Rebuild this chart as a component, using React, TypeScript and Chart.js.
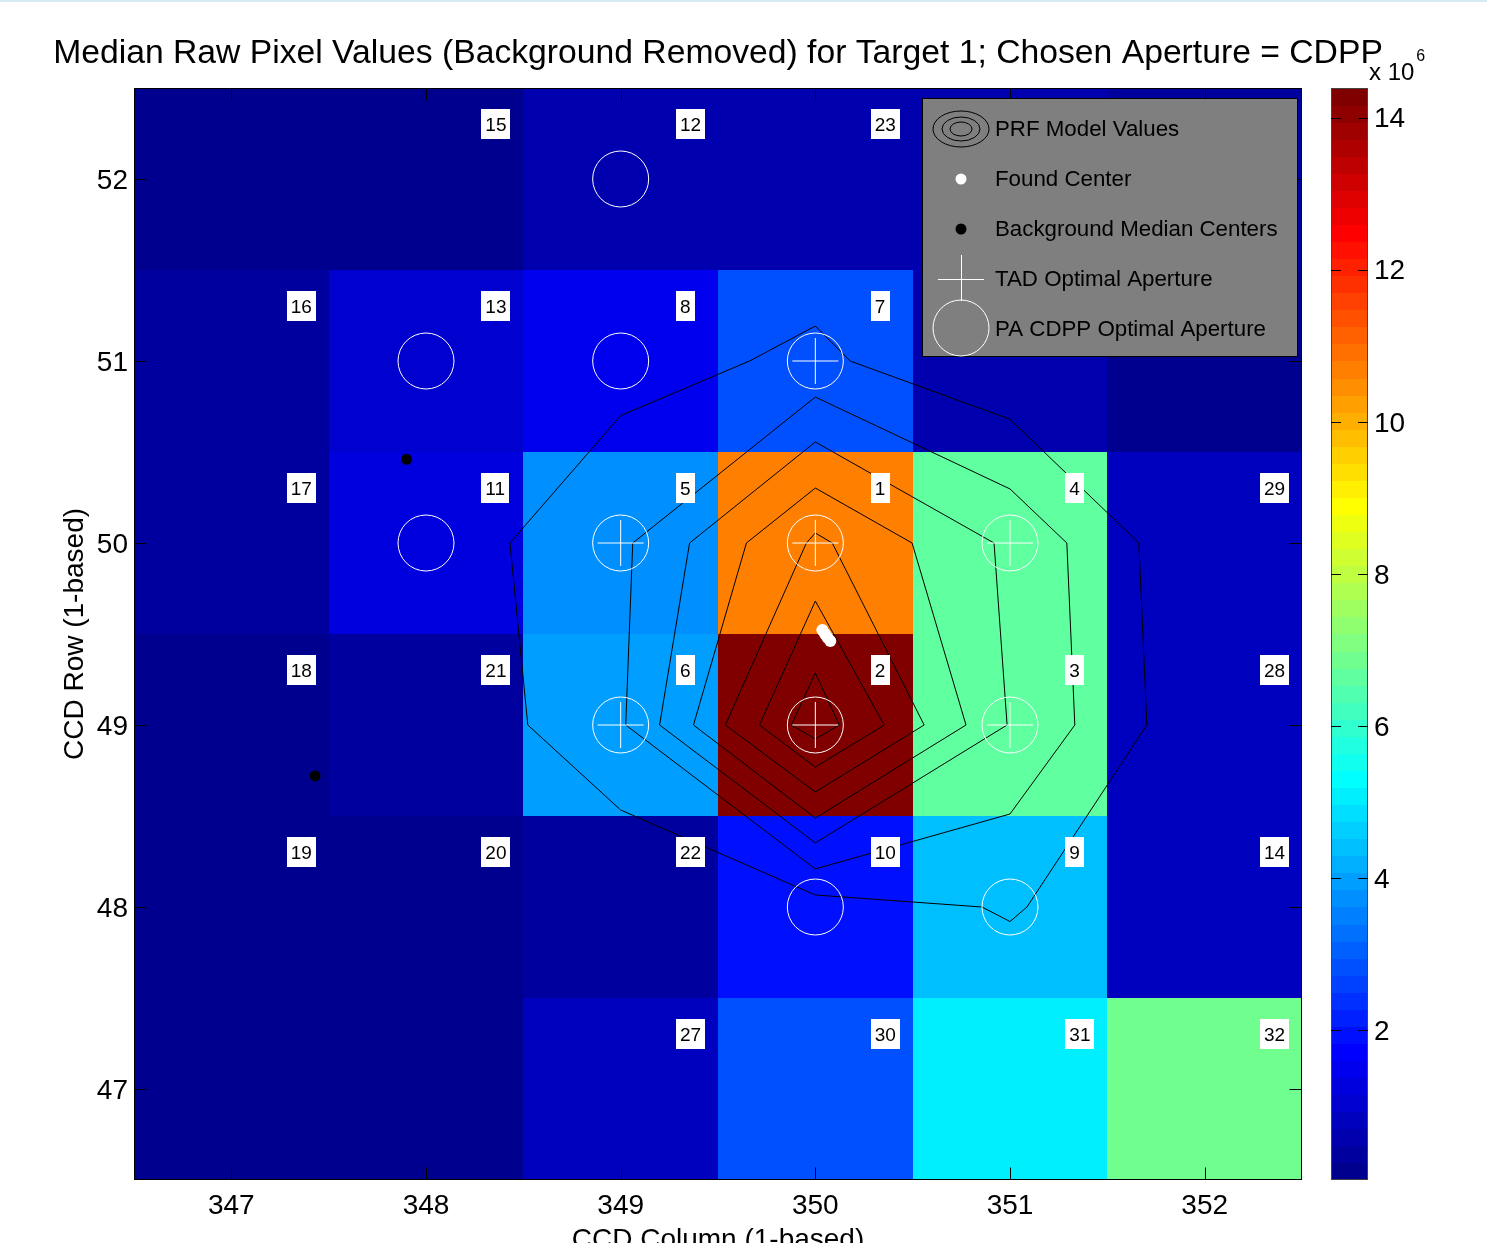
import React, { useEffect, useRef } from 'react';
import { Chart, registerables } from 'chart.js';

Chart.register(...registerables);

const FONT = "'Liberation Sans', Arial, Helvetica, sans-serif";

// ---- data ----
const columns = [347, 348, 349, 350, 351, 352];
const rows = [52, 51, 50, 49, 48, 47];
const xTickValues = [347, 348, 349, 350, 351, 352];
const yTickValues = [47, 48, 49, 50, 51, 52];
const colorTickValues = [2, 4, 6, 8, 10, 12, 14];
const colorMin = 0.03;
const colorMax = 14.39;

// median pixel values (x 10^6), one array per CCD row, columns 347..352
const row52 = [0.1, 0.12, 0.62, 0.6, 0.6, 0.4];
const row51 = [0.3, 1.05, 1.5, 2.85, 0.6, 0.1];
const row50 = [0.28, 1.27, 3.75, 10.7, 6.65, 0.85];
const row49 = [0.15, 0.4, 3.95, 14.39, 6.65, 0.85];
const row48 = [0.12, 0.18, 0.4, 1.95, 4.4, 0.85];
const row47 = [0.03, 0.1, 0.82, 2.85, 5.1, 6.9];
const pixelValues = [row52, row51, row50, row49, row48, row47];

// pixel index labels (0 = no label)
const labels52 = [0, 15, 12, 23, 0, 0];
const labels51 = [16, 13, 8, 7, 0, 0];
const labels50 = [17, 11, 5, 1, 4, 29];
const labels49 = [18, 21, 6, 2, 3, 28];
const labels48 = [19, 20, 22, 10, 9, 14];
const labels47 = [0, 0, 27, 30, 31, 32];
const pixelLabels = [labels52, labels51, labels50, labels49, labels48, labels47];

// PA CDPP optimal aperture pixels
const cdppCols = [349, 348, 349, 350, 348, 349, 350, 351, 349, 350, 351, 350, 351];
const cdppRows = [52, 51, 51, 51, 50, 50, 50, 50, 49, 49, 49, 48, 48];
// TAD optimal aperture pixels
const tadCols = [350, 349, 350, 351, 349, 350, 351];
const tadRows = [51, 50, 50, 50, 49, 49, 49];
// found centers
const foundCols = [350.036, 350.05, 350.063, 350.077];
const foundRows = [49.522, 49.5, 49.48, 49.462];
// background median centers
const bgCols = [347.9, 347.43];
const bgRows = [50.46, 48.72];

// PRF model contours (closed polygons), inner to outer
const contour1X = [350.0, 350.123, 350.0, 349.877, 350.0];
const contour1Y = [49.286, 49.0, 48.923, 49.0, 49.286];
const contour2X = [350.0, 350.354, 350.0, 349.713, 350.0];
const contour2Y = [49.681, 49.0, 48.769, 49.0, 49.681];
const contour3X = [350.0, 350.087, 350.559, 350.0, 349.538, 349.954, 350.0];
const contour3Y = [50.055, 50.0, 49.0, 48.632, 49.0, 50.0, 50.055];
const contour4X = [350.0, 350.497, 350.774, 350.0, 349.374, 349.646, 350.0];
const contour4Y = [50.302, 50.0, 49.0, 48.489, 49.0, 50.0, 50.302];
const contour5X = [350.0, 350.918, 350.985, 350.0, 349.2, 349.354, 350.0];
const contour5Y = [50.555, 50.0, 49.0, 48.352, 49.0, 50.0, 50.555];
const contour6X = [350.0, 351.0, 351.292, 351.333, 351.0, 350.0, 349.026, 349.062, 350.0];
const contour6Y = [50.802, 50.297, 50.0, 49.0, 48.511, 48.209, 49.0, 50.0, 50.802];
const contour7X = [350.0, 350.179, 351.0, 351.662, 351.703, 351.087, 351.0, 350.856, 350.0, 349.0, 348.523, 348.431, 349.0, 349.662, 350.0];
const contour7Y = [51.192, 51.0, 50.68, 50.0, 49.0, 48.0, 47.92, 48.0, 48.066, 48.533, 49.0, 50.0, 50.7, 51.0, 51.192];
const contoursX = [contour1X, contour2X, contour3X, contour4X, contour5X, contour6X, contour7X];
const contoursY = [contour1Y, contour2Y, contour3Y, contour4Y, contour5Y, contour6Y, contour7Y];

const legendLabels = [
  'PRF Model Values',
  'Found Center',
  'Background Median Centers',
  'TAD Optimal Aperture',
  'PA CDPP Optimal Aperture',
];

const titleText = 'Median Raw Pixel Values (Background Removed) for Target 1; Chosen Aperture = CDPP';

// ---- helpers ----
function jet(k: number): string {
  let r = 0, g = 0, b = 0;
  if (k <= 8) b = 0.5 + 0.0625 * k;
  else if (k <= 24) { b = 1; g = 0.0625 * (k - 8); }
  else if (k <= 40) { r = 0.0625 * (k - 24); g = 1; b = 1 - 0.0625 * (k - 24); }
  else if (k <= 56) { r = 1; g = 1 - 0.0625 * (k - 40); }
  else r = 1 - 0.0625 * (k - 56);
  return `rgb(${Math.round(r * 255)},${Math.round(g * 255)},${Math.round(b * 255)})`;
}
function colorFor(v: number): string {
  let k = Math.floor(((v - colorMin) / (colorMax - colorMin)) * 64) + 1;
  k = Math.max(1, Math.min(64, k));
  return jet(k);
}
const pts = (xs: number[], ys: number[]) => xs.map((x, i) => ({ x, y: ys[i] }));

const heatmapPlugin = {
  id: 'heatmap',
  beforeDatasetsDraw(chart: any) {
    const { ctx, scales } = chart;
    const xs = scales.x, ys = scales.y;
    ctx.save();
    rows.forEach((r, ri) => {
      columns.forEach((c, ci) => {
        const x0 = Math.round(xs.getPixelForValue(c - 0.5));
        const x1 = Math.round(xs.getPixelForValue(c + 0.5));
        const y0 = Math.round(ys.getPixelForValue(r + 0.5));
        const y1 = Math.round(ys.getPixelForValue(r - 0.5));
        ctx.fillStyle = colorFor(pixelValues[ri][ci]);
        ctx.fillRect(x0, y0, x1 - x0, y1 - y0);
      });
    });
    ctx.restore();
  },
};

const overlayPlugin = {
  id: 'overlay',
  afterDatasetsDraw(chart: any) {
    const { ctx, scales, chartArea } = chart;
    const xs = scales.x, ys = scales.y;
    ctx.save();
    // pixel labels
    ctx.font = `19px ${FONT}`;
    ctx.textBaseline = 'middle';
    ctx.textAlign = 'left';
    rows.forEach((r, ri) => {
      columns.forEach((c, ci) => {
        const lab = pixelLabels[ri][ci];
        if (!lab) return;
        const s = String(lab);
        const tx = xs.getPixelForValue(c + 0.305);
        const ty = ys.getPixelForValue(r + 0.3);
        const w = ctx.measureText(s).width;
        ctx.fillStyle = '#fff';
        ctx.fillRect(Math.round(tx - 4), Math.round(ty - 15), Math.round(w + 8), 30);
        ctx.fillStyle = '#000';
        ctx.fillText(s, tx, ty + 1);
      });
    });

    // axes box + inward ticks
    ctx.strokeStyle = '#000';
    ctx.lineWidth = 1;
    const L = Math.round(chartArea.left) + 0.5, R = Math.round(chartArea.right) - 0.5;
    const T = Math.round(chartArea.top) + 0.5, B = Math.round(chartArea.bottom) - 0.5;
    ctx.beginPath();
    xTickValues.forEach((v) => {
      const px = Math.round(xs.getPixelForValue(v)) + 0.5;
      ctx.moveTo(px, B); ctx.lineTo(px, B - 12);
      ctx.moveTo(px, T); ctx.lineTo(px, T + 12);
    });
    yTickValues.forEach((v) => {
      const py = Math.round(ys.getPixelForValue(v)) + 0.5;
      ctx.moveTo(L, py); ctx.lineTo(L + 12, py);
      ctx.moveTo(R, py); ctx.lineTo(R - 12, py);
    });
    ctx.stroke();
    ctx.strokeRect(L, T, R - L, B - T);

    // legend
    const lw = 375, lh = 258;
    const lx = Math.round(chartArea.right) - 5 - lw;
    const ly = Math.round(chartArea.top) + 10;
    ctx.fillStyle = '#7f7f7f';
    ctx.fillRect(lx, ly, lw, lh);
    ctx.strokeStyle = '#000';
    ctx.strokeRect(lx + 0.5, ly + 0.5, lw, lh);
    const ix = lx + 39, tx = lx + 73;
    const ey = (i: number) => ly + 31 + i * 50;
    // PRF icon
    ctx.strokeStyle = '#000';
    ctx.lineWidth = 1;
    [[28, 18], [19, 12], [11, 7]].forEach(([rx, ry]) => {
      ctx.beginPath();
      ctx.ellipse(ix, ey(0), rx, ry, 0, 0, Math.PI * 2);
      ctx.stroke();
    });
    // found center icon
    ctx.fillStyle = '#fff';
    ctx.beginPath(); ctx.arc(ix, ey(1), 5.5, 0, Math.PI * 2); ctx.fill();
    // background median icon
    ctx.fillStyle = '#000';
    ctx.beginPath(); ctx.arc(ix, ey(2), 5.5, 0, Math.PI * 2); ctx.fill();
    // TAD icon
    ctx.strokeStyle = '#fff';
    ctx.beginPath();
    ctx.moveTo(ix - 23, ey(3) + 0.5); ctx.lineTo(ix + 23, ey(3) + 0.5);
    ctx.moveTo(ix + 0.5, ey(3) - 24); ctx.lineTo(ix + 0.5, ey(3) + 22);
    ctx.stroke();
    // CDPP icon
    ctx.beginPath(); ctx.arc(ix, ey(4) - 1, 28, 0, Math.PI * 2); ctx.stroke();
    ctx.fillStyle = '#000';
    ctx.font = `22.3px ${FONT}`;
    ctx.textBaseline = 'middle';
    legendLabels.forEach((t, i) => ctx.fillText(t, tx, ey(i) + 1));

    ctx.restore();
  },
  afterDraw(chart: any) {
    const { ctx, scales, chartArea } = chart;
    const cb = scales.cb;
    ctx.save();
    // colorbar
    const cx0 = Math.round(chartArea.right) + 29, cx1 = cx0 + 37;
    for (let k = 1; k <= 64; k++) {
      const v0 = colorMin + ((k - 1) / 64) * (colorMax - colorMin);
      const v1 = colorMin + (k / 64) * (colorMax - colorMin);
      const y0 = cb.getPixelForValue(v1), y1 = cb.getPixelForValue(v0);
      ctx.fillStyle = jet(k);
      ctx.fillRect(cx0, Math.floor(y0), cx1 - cx0, Math.ceil(y1) - Math.floor(y0));
    }
    ctx.strokeStyle = '#444';
    ctx.lineWidth = 1;
    const cT = Math.round(cb.getPixelForValue(colorMax)) + 0.5;
    const cB = Math.round(cb.getPixelForValue(colorMin)) - 0.5;
    ctx.strokeRect(cx0 + 0.5, cT, cx1 - cx0 - 1, cB - cT);
    ctx.strokeStyle = '#000';
    ctx.beginPath();
    colorTickValues.forEach((v) => {
      const py = Math.round(cb.getPixelForValue(v)) + 0.5;
      ctx.moveTo(cx0, py); ctx.lineTo(cx0 + 10, py);
      ctx.moveTo(cx1, py); ctx.lineTo(cx1 - 10, py);
    });
    ctx.stroke();
    // exponent
    ctx.fillStyle = '#000';
    ctx.textAlign = 'left';
    ctx.textBaseline = 'alphabetic';
    ctx.font = `24px ${FONT}`;
    ctx.fillText('x 10', cx0 + 38, 80);
    const ew = ctx.measureText('x 10').width;
    ctx.font = `16px ${FONT}`;
    ctx.fillText('6', cx0 + 38 + ew + 2, 61);
    // title
    const midX = (chartArea.left + chartArea.right) / 2;
    ctx.font = `33.7px ${FONT}`;
    ctx.textAlign = 'center';
    ctx.textBaseline = 'middle';
    ctx.fillText(titleText, midX, 54);
    // axis titles
    ctx.font = `28px ${FONT}`;
    ctx.fillText('CCD Column (1-based)', midX, 1240);
    ctx.translate(75, (chartArea.top + chartArea.bottom) / 2);
    ctx.rotate(-Math.PI / 2);
    ctx.fillText('CCD Row (1-based)', 0, 0);
    ctx.restore();
    // top light line
    ctx.save();
    ctx.fillStyle = '#d6eaf2';
    ctx.fillRect(0, 0, chart.width, 2);
    ctx.restore();
  },
};

export default function App() {
  const ref = useRef<HTMLCanvasElement>(null);
  useEffect(() => {
    const contourSets = contoursX.map((cx, i) => ({
      label: `PRF contour ${i + 1}`,
      data: pts(cx, contoursY[i]),
      showLine: true,
      borderColor: '#000',
      borderWidth: 1,
      pointRadius: 0,
      fill: false,
      tension: 0,
      order: 5,
    }));
    const tickFont = { family: FONT, size: 28 };
    const chart = new Chart(ref.current as HTMLCanvasElement, {
      type: 'scatter',
      data: {
        datasets: [
          ...contourSets,
          {
            label: 'PA CDPP Optimal Aperture',
            data: pts(cdppCols, cdppRows),
            pointStyle: 'circle',
            pointRadius: 28,
            pointHoverRadius: 28,
            borderColor: '#fff',
            backgroundColor: 'rgba(0,0,0,0)',
            borderWidth: 1,
            order: 4,
          },
          {
            label: 'TAD Optimal Aperture',
            data: pts(tadCols, tadRows),
            pointStyle: 'cross',
            pointRadius: 23,
            pointHoverRadius: 23,
            borderColor: '#fff',
            borderWidth: 1,
            order: 3,
          },
          {
            label: 'Background Median Centers',
            data: pts(bgCols, bgRows),
            pointStyle: 'circle',
            pointRadius: 5.5,
            backgroundColor: '#000',
            borderColor: '#000',
            borderWidth: 0,
            order: 2,
          },
          {
            label: 'Found Center',
            data: pts(foundCols, foundRows),
            pointStyle: 'circle',
            pointRadius: 6,
            backgroundColor: '#fff',
            borderColor: '#fff',
            borderWidth: 0,
            order: 1,
          },
        ] as any,
      },
      options: {
        responsive: false,
        animation: false,
        devicePixelRatio: 1,
        events: [],
        layout: { padding: { top: 88, left: 0, right: 0, bottom: 0 } },
        plugins: { legend: { display: false }, tooltip: { enabled: false }, title: { display: false } },
        scales: {
          x: {
            type: 'linear',
            position: 'bottom',
            min: 346.5,
            max: 352.5,
            afterBuildTicks: (s: any) => { s.ticks = xTickValues.map((v) => ({ value: v })); },
            afterFit: (s: any) => { s.height = 63; },
            grid: { display: false, drawTicks: false },
            border: { display: false },
            ticks: { font: tickFont, color: '#000', padding: 9, maxRotation: 0, autoSkip: false },
          },
          y: {
            type: 'linear',
            position: 'left',
            min: 46.5,
            max: 52.5,
            afterBuildTicks: (s: any) => { s.ticks = yTickValues.map((v) => ({ value: v })); },
            afterFit: (s: any) => { s.width = 134; },
            grid: { display: false, drawTicks: false },
            border: { display: false },
            ticks: { font: tickFont, color: '#000', padding: 6, autoSkip: false, labelOffset: 2 },
          },
          cb: {
            type: 'linear',
            axis: 'y',
            position: 'right',
            min: colorMin,
            max: colorMax,
            afterBuildTicks: (s: any) => { s.ticks = colorTickValues.map((v) => ({ value: v })); },
            afterFit: (s: any) => { s.width = 185; },
            grid: { display: false, drawTicks: true, tickLength: 66 },
            border: { display: false },
            ticks: { font: tickFont, color: '#000', padding: 6, autoSkip: false, labelOffset: 2 },
          },
        } as any,
      },
      plugins: [heatmapPlugin, overlayPlugin],
    } as any);
    return () => chart.destroy();
  }, []);
  return (
    <div style={{ position: 'absolute', left: 0, top: 0, width: 1487, height: 1243, background: '#fff' }}>
      <canvas ref={ref} width={1487} height={1243} style={{ display: 'block' }} />
    </div>
  );
}
